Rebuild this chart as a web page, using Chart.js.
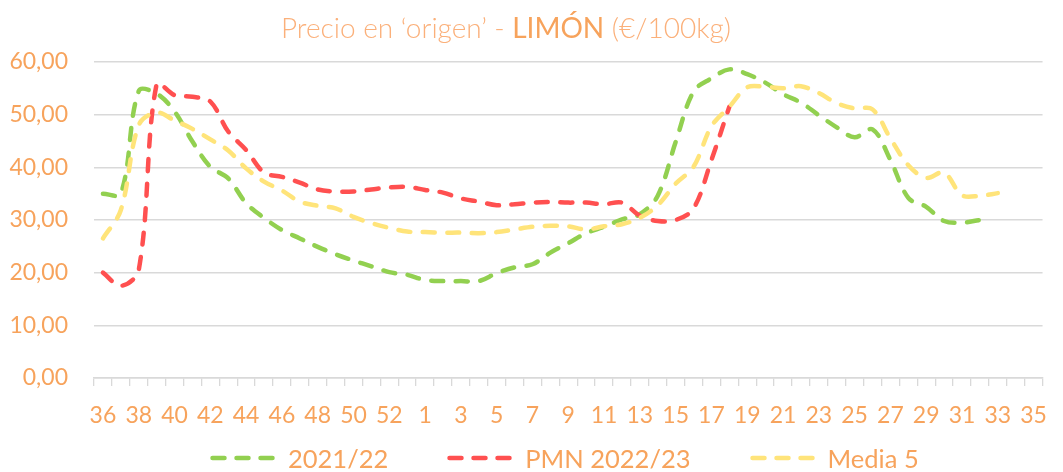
<!DOCTYPE html>
<html lang="es">
<head>
<meta charset="utf-8">
<title>Precio en origen - LIMÓN</title>
<script src="https://cdn.jsdelivr.net/npm/chart.js@4.4.1/dist/chart.umd.min.js"></script>
<style>
    html, body { margin: 0; padding: 0; background: #fff; }
    #wrap { position: relative; width: 1063px; height: 472px; font-family: Lato, 'Open Sans', sans-serif; }
    #chartLimon { position: absolute; left: 0; top: 0; }
    #titulo {
        position: absolute; left: 0; top: 10px; width: 1012px;
        text-align: center; white-space: nowrap;
        font-size: 28px; font-weight: 300; color: #FBB07A;
    }
    #titulo b { font-weight: 400; color: #F7A35C; }
    #leyenda {
        position: absolute; left: 210px; top: 443px;
        display: flex; gap: 59px;
        font-size: 25.5px; color: #F7A35C;
    }
    #leyenda .item { display: flex; align-items: center; gap: 13px; }
</style>
</head>
<body>
<div id="wrap">
    <canvas id="chartLimon" width="1063" height="472"></canvas>
    <div id="titulo">Precio en ‘origen’ - <b>LIMÓN</b> (€/100kg)</div>
    <div id="leyenda"></div>
</div>
<script>
// semanas de campaña (36..53, 1..35)
const semanas = ['36','37','38','39','40','41','42','43','44','45','46','47','48','49','50','51','52','53',
    '1','2','3','4','5','6','7','8','9','10','11','12','13','14','15','16','17','18','19','20',
    '21','22','23','24','25','26','27','28','29','30','31','32','33','34','35'];

// €/100kg
const campana2122 = [35.0, 35.0, 54.5, 54.0, 50.6, 44.9, 40.1, 37.9, 33.2, 30.4, 28.1, 26.5, 24.9, 23.5, 22.3, 21.2, 20.1, 19.6,
    18.6, 18.4, 18.4, 18.4, 19.9, 21.0, 21.6, 23.8, 25.6, 27.5, 28.7, 30.1, 31.1, 34.6, 44.8, 54.4, 56.9, 58.6,
    57.7, 56.1, 53.9, 52.3, 49.9, 47.6, 45.7, 47.2, 41.4, 34.2, 32.5, 29.8, 29.5, 30.0, null, null, null];

const pmn2223 = [20.0, 17.5, 20.5, 55.8, 53.7, 53.4, 52.5, 46.8, 43.3, 39.0, 38.2, 37.1, 35.8, 35.4, 35.4, 35.8, 36.2, 36.3,
    35.7, 35.2, 34.1, 33.5, 32.8, 33.0, 33.3, 33.4, 33.3, 33.3, 33.0, 33.3, 30.8, 29.8, 30.0, 32.2, 41.4, 51.5,
    null, null, null, null, null, null, null, null, null, null, null, null, null, null, null, null, null];

const media5 = [26.5, 31.9, 48.0, 50.4, 48.9, 47.3, 45.3, 43.2, 39.8, 37.3, 35.6, 33.5, 32.7, 32.2, 30.6, 29.4, 28.5, 27.8,
    27.7, 27.6, 27.6, 27.5, 27.7, 28.2, 28.7, 28.9, 28.8, 28.2, 28.8, 29.2, 30.4, 32.8, 36.9, 40.1, 47.8, 51.5,
    55.2, 55.3, 55.0, 55.4, 54.1, 52.2, 51.2, 51.0, 45.5, 40.4, 38.0, 39.0, 34.7, 34.6, 35.1, null, null];

const naranja = '#F7A35C';
const gris = '#D9D9D9';
const fuente = { family: 'Lato, "Open Sans", sans-serif', size: 23 };

const serie = (label, data, color, order) => ({
    label, data, order,
    borderColor: color,
    backgroundColor: color,
    borderWidth: 4.5,
    borderDash: [12, 12.5],
    borderCapStyle: 'round',
    borderJoinStyle: 'round',
    pointRadius: 0,
    pointHoverRadius: 0,
    tension: 0.35,
    fill: false
});

const datasets = [
    serie('2021/22', campana2122, '#92D050', 3),
    serie('PMN 2022/23', pmn2223, '#FF5050', 2),
    serie('Media 5', media5, '#FFE47A', 1)
];

new Chart(document.getElementById('chartLimon'), {
    type: 'line',
    data: { labels: semanas, datasets },
    options: {
        responsive: false,
        animation: false,
        layout: { padding: { top: 62, left: 8, right: 7, bottom: 34 } },
        plugins: { legend: { display: false }, title: { display: false }, tooltip: { enabled: false } },
        scales: {
            x: {
                offset: true,
                afterFit: (s) => { s.height = 60; },
                grid: { offset: true, drawOnChartArea: false, drawTicks: true, tickLength: 8, color: gris, lineWidth: 1.3 },
                border: { color: gris, width: 1.5 },
                ticks: {
                    autoSkip: false, maxRotation: 0, padding: 16,
                    color: naranja, font: fuente,
                    callback: (v, i) => (i % 2 === 0 ? semanas[i] : '')
                }
            },
            y: {
                min: 0, max: 60,
                afterFit: (s) => { s.width = 86; },
                grid: { color: gris, lineWidth: 1.5, drawTicks: false },
                border: { display: false },
                ticks: {
                    stepSize: 10, padding: 26,
                    color: naranja, font: fuente,
                    callback: (v) => v.toFixed(2).replace('.', ',')
                }
            }
        }
    }
});

// leyenda en HTML con las mismas líneas discontinuas
const leyenda = document.getElementById('leyenda');
datasets.forEach(d => {
    const item = document.createElement('div');
    item.className = 'item';
    item.innerHTML =
        `<svg width="65" height="10"><line x1="2.5" y1="5" x2="62.5" y2="5" stroke="${d.borderColor}" ` +
        `stroke-width="4.5" stroke-linecap="round" stroke-dasharray="12 12"/></svg><span>${d.label}</span>`;
    leyenda.appendChild(item);
});
</script>
</body>
</html>
